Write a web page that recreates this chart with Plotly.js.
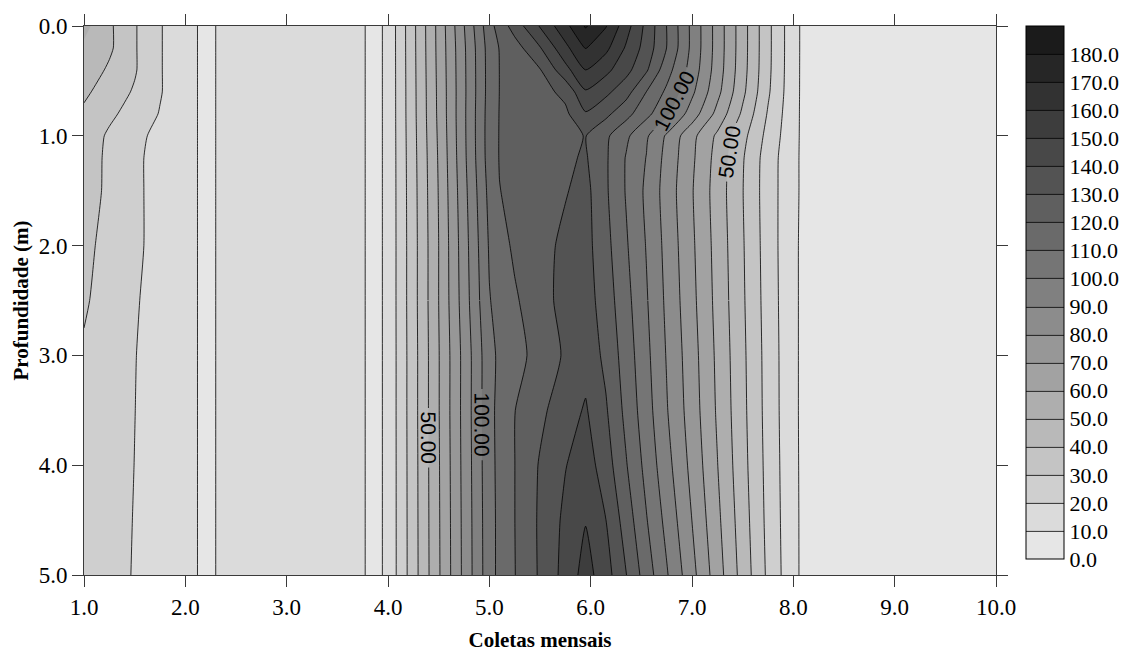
<!DOCTYPE html>
<html>
<head>
<meta charset="utf-8">
<script src="https://cdn.plot.ly/plotly-3.0.1.min.js"></script>
<style>
html, body { margin: 0; padding: 0; background: #ffffff; }
#chart { width: 1125px; height: 652px; }
</style>
</head>
<body>
<div id="chart"></div>
<script>
// Monthly collections (x) and depth (m) grid nodes
const collections = [1.0, 1.25, 1.5, 1.75, 2.0, 2.2, 2.4, 3.0, 3.65, 3.9, 4.0, 4.5, 5.0, 5.1, 5.25, 5.5, 5.75, 5.95, 6.15, 6.35, 6.55, 6.75, 7.0, 7.25, 7.5, 7.75, 8.0, 8.1, 10.0];
const depths = [0, 0.2, 0.4, 0.6, 0.8, 1.0, 1.2, 1.5, 2.0, 2.5, 3.0, 3.5, 4.0, 4.5, 5.0];

// values, one row per depth
const row_d00 = [53, 41.7, 30.9, 20.7, 13, 8, 12, 14, 12, 8, 12.5, 63, 116.3, 124.1, 134.3, 150.7, 167, 181, 170.6, 154.1, 137.3, 119.9, 97.6, 75.9, 54.2, 32.5, 13.4, 8, 5];
const row_d02 = [48, 41.7, 30.9, 20.7, 13, 8, 12, 14, 12, 8, 12.5, 62.8, 114.2, 120.4, 125.5, 139.3, 157.3, 170.5, 162.5, 148.8, 135.8, 119.9, 97.6, 75.9, 54.2, 32.5, 13.4, 8, 5];
const row_d04 = [46, 38.5, 30.9, 20.7, 13, 8, 12, 14, 12, 8, 12.5, 62.5, 113.9, 120.1, 123.5, 129.4, 146.6, 160, 152.7, 143.2, 131.3, 114.1, 95.9, 75.2, 53.8, 32.3, 13.3, 8, 5];
const row_d06 = [42, 35, 29, 20.7, 13, 8, 12, 14, 12, 8, 12.5, 62.2, 113.9, 120.1, 122.6, 126.5, 132.5, 149, 142.4, 133.8, 119.9, 108.1, 92, 72.9, 52.3, 31.4, 13.2, 8, 5];
const row_d08 = [38, 32, 26, 19.5, 13, 8, 12, 14, 12, 8, 12.5, 62, 114.4, 120.3, 122.3, 125.8, 128, 139, 132.4, 123.4, 112.8, 102.2, 85.3, 67, 48.2, 29.1, 13, 8, 5];
const row_d10 = [36, 28.5, 22.5, 17.5, 13, 8, 12, 14, 12, 8, 12.5, 61.5, 114.6, 120.4, 122.1, 124.9, 127.8, 130.3, 121.9, 112, 101.4, 88.7, 72.9, 58.2, 43.1, 26.9, 12.8, 8, 5];
const row_d12 = [35, 28, 22, 16.5, 13, 8, 12, 14, 12, 8, 12.5, 61, 114.4, 120.4, 122.3, 125.4, 128.5, 131, 121.3, 109.4, 99.7, 86.9, 71.8, 56.4, 40.9, 25.1, 12.5, 8, 5];
const row_d15 = [34.5, 28, 22, 16.5, 13, 8, 12, 14, 12, 8, 12.5, 60.5, 112.9, 119.8, 122.1, 125.7, 129.4, 133, 121.4, 109.3, 98.1, 85.8, 70.7, 55.5, 40.3, 24.9, 12.5, 8, 5];
const row_d20 = [32, 27.5, 22, 16.5, 13, 8, 12, 14, 12, 8, 12.5, 60, 111, 116, 121.8, 126.9, 132, 133.5, 123.1, 111.1, 99.5, 87, 71.7, 56.3, 40.9, 25.2, 12, 8, 5];
const row_d25 = [31, 26.5, 21, 16, 13, 8, 12, 14, 12, 8, 12.5, 60, 109.5, 113.3, 118.6, 126.5, 133, 134.5, 125.1, 113.2, 100.9, 88.1, 72.7, 57, 41.4, 25.6, 12, 8, 5];
const row_d30 = [29, 25, 20.3, 16, 13, 8, 12, 14, 12, 8, 12.5, 59.5, 106.9, 111.9, 116.4, 123.8, 131.3, 136.5, 127.6, 115.3, 102.5, 89.4, 74.1, 58, 42.1, 26.1, 12, 8, 5];
const row_d35 = [28, 24.5, 20.1, 16, 13, 8, 12, 14, 12, 8, 12.5, 59.5, 107, 112.8, 119.8, 127.7, 135.7, 141, 131.1, 117.3, 104.2, 90.7, 75.1, 58.8, 42.6, 26.3, 12, 8, 5];
const row_d40 = [27.5, 24, 19.9, 16, 13, 8, 12, 14, 12, 8, 12.5, 59.2, 106.7, 112.6, 119.9, 130.9, 139.6, 145, 134.8, 120.7, 106.9, 93.5, 77.1, 60.3, 43.4, 26.8, 12.2, 8, 5];
const row_d45 = [27, 24, 19.6, 16, 13, 8, 12, 14, 12, 8, 12.5, 59, 106.3, 112.4, 119.9, 131.5, 142.2, 149.5, 140.1, 125.4, 110.6, 97.1, 79.9, 62.3, 44.7, 27.3, 12.4, 8, 5];
const row_d50 = [27, 24, 19.3, 16, 13, 8, 12, 14, 12, 8, 12.5, 58.8, 106.1, 112.5, 119.7, 131.3, 143.5, 154, 144.2, 130.3, 115.1, 101, 83.2, 64.6, 46.1, 28.1, 12.5, 8, 5];

const xTicks = [1, 2, 3, 4, 5, 6, 7, 8, 9, 10];
const yTicks = [0, 1, 2, 3, 4, 5];
const levelTicks = [0, 10, 20, 30, 40, 50, 60, 70, 80, 90, 100, 110, 120, 130, 140, 150, 160, 170, 180];
const bandGrays = [230, 219, 207, 196, 185, 174, 162, 151, 140, 128, 117, 106, 95, 83, 72, 61, 50, 38, 27];
const labelledLevels = [50, 100];

const zGrid = [row_d00, row_d02, row_d04, row_d06, row_d08, row_d10, row_d12, row_d15,
               row_d20, row_d25, row_d30, row_d35, row_d40, row_d45, row_d50];

// stepped grayscale
const nb = bandGrays.length;
const colorscale = [];
bandGrays.forEach(function (g, i) {
  const c = 'rgb(' + g + ',' + g + ',' + g + ')';
  colorscale.push([i / nb, c]);
  colorscale.push([(i + 1) / nb, c]);
});

const serif = 'Liberation Serif, Times New Roman, serif';
const sans = 'Liberation Sans, Arial, sans-serif';
const lineStyle = { color: '#000000', width: 0.8, smoothing: 0.6 };

const plotL = 84, plotR = 996, plotT = 26, plotB = 575;
const plotW = plotR - plotL;

// sub-grid helper (index ranges are inclusive)
function sub(r0, r1, c0, c1) {
  return {
    x: collections.slice(c0, c1 + 1),
    y: depths.slice(r0, r1 + 1),
    z: zGrid.slice(r0, r1 + 1).map(function (r) { return r.slice(c0, c1 + 1); })
  };
}

function lineTrace(grid, start, end, size, labels) {
  const c = { start: start, end: end, size: size, coloring: 'none', showlabels: !!labels };
  if (labels) {
    c.labelformat = '.2f';
    c.labelfont = { family: sans, size: 21, color: '#000000' };
  }
  return {
    type: 'contour', x: grid.x, y: grid.y, z: grid.z,
    autocontour: false, contours: c, line: lineStyle,
    showscale: false, hoverinfo: 'skip'
  };
}

const lastRow = depths.length - 1;
const full = sub(0, lastRow, 0, collections.length - 1);

// trace carrying the colour bar (hidden beneath the fill)
const scaleTrace = {
  type: 'contour', x: full.x, y: full.y, z: full.z,
  zauto: false, zmin: 0, zmax: 190, colorscale: colorscale,
  autocontour: false,
  contours: { start: 10, end: 180, size: 10, coloring: 'fill', showlines: true },
  line: lineStyle,
  hoverinfo: 'skip',
  colorbar: {
    x: (1026 - plotL) / plotW, xanchor: 'left', xpad: 0,
    y: 1, yanchor: 'top', ypad: 0,
    len: 533, lenmode: 'pixels',
    thickness: 38, thicknessmode: 'pixels',
    outlinewidth: 1, outlinecolor: '#000000',
    tickmode: 'array', tickvals: levelTicks,
    ticktext: levelTicks.map(function (v) { return v.toFixed(1); }),
    ticks: '', ticklabelpad: 6,
    tickfont: { family: serif, size: 22, color: '#000000' }
  }
};

const fillTrace = {
  type: 'contour', x: full.x, y: full.y, z: full.z,
  zauto: false, zmin: 0, zmax: 190, colorscale: colorscale,
  autocontour: false,
  contours: { start: 10, end: 180, size: 10, coloring: 'fill', showlines: false },
  line: lineStyle, showscale: false, hoverinfo: 'skip'
};

// contour lines without labels (all levels except the labelled ones)
const linesLow = lineTrace(full, 10, 40, 10, false);
const linesMid = lineTrace(full, 60, 90, 10, false);
const linesHigh = lineTrace(full, 110, 180, 10, false);

// labelled levels: left block (x 4.0-5.1), right block (x 6.35-7.75)
const L = [10, 13], R = [19, 25];
const lv50 = labelledLevels[0], lv100 = labelledLevels[1];

const traces = [
  scaleTrace, fillTrace, linesLow, linesMid, linesHigh,
  // left side: labels in the lower half
  lineTrace(sub(0, 9, L[0], L[1]), lv50, lv100, lv100 - lv50, false),
  lineTrace(sub(9, lastRow, L[0], L[1]), lv50, lv50, 10, true),
  lineTrace(sub(9, lastRow, L[0], L[1]), lv100, lv100, 10, true),
  // right side: labels in the upper half
  lineTrace(sub(0, 9, R[0], R[1]), lv50, lv50, 10, true),
  lineTrace(sub(0, 9, R[0], R[1]), lv100, lv100, 10, true),
  lineTrace(sub(9, lastRow, R[0], R[1]), lv50, lv100, lv100 - lv50, false)
];

const axisCommon = {
  showgrid: false, zeroline: false,
  showline: true, linecolor: '#3a3a3a', linewidth: 1,
  mirror: 'ticks', ticks: 'outside', ticklen: 11,
  tickcolor: '#3a3a3a', tickwidth: 1, tickmode: 'array',
  tickfont: { family: serif, size: 23, color: '#000000' },
  automargin: false
};

const layout = {
  width: 1125, height: 652,
  margin: { l: plotL, r: 1125 - plotR, t: plotT, b: 652 - plotB, pad: 0, autoexpand: false },
  paper_bgcolor: '#ffffff', plot_bgcolor: '#ffffff',
  showlegend: false,
  xaxis: Object.assign({}, axisCommon, {
    range: [1, 10], tickvals: xTicks,
    ticktext: xTicks.map(function (v) { return v.toFixed(1); }),
    title: { text: '<b>Coletas mensais</b>', font: { family: serif, size: 21, color: '#000000' }, standoff: 14 }
  }),
  yaxis: Object.assign({}, axisCommon, {
    range: [5, 0], tickvals: yTicks,
    ticktext: yTicks.map(function (v) { return v.toFixed(1); }),
    title: { text: '<b>Profundidade (m)</b>', font: { family: serif, size: 21, color: '#000000' }, standoff: 4 }
  })
};

Plotly.newPlot('chart', traces, layout, { staticPlot: true, displayModeBar: false });
</script>
</body>
</html>
